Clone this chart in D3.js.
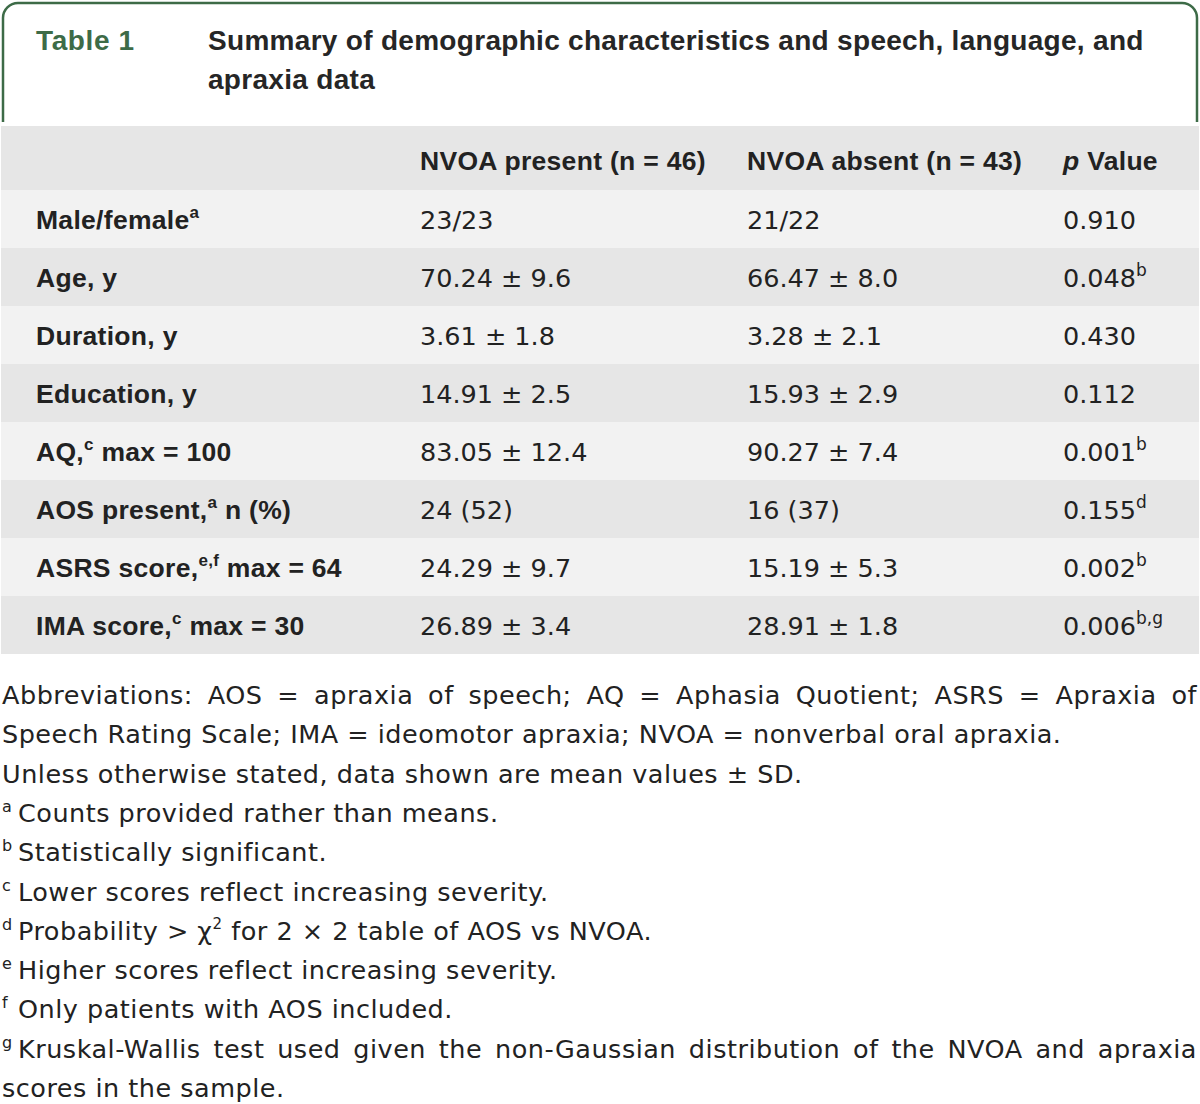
<!DOCTYPE html>
<html lang="en">
<head>
<meta charset="UTF-8">
<title>Table 1</title>
<script src="https://d3js.org/d3.v7.min.js"></script>
<style>
  body { margin: 0; background: #fff; }
  text { font-family: "DejaVu Sans", sans-serif; fill: #222; }
  text.b { font-family: "Liberation Sans", Arial, sans-serif; font-weight: bold; letter-spacing: 0.3px; }
  text.note { letter-spacing: 0.5px; }
</style>
</head>
<body>
<div id="tbl"></div>
<script>
// data
const tableNo = "Table 1";
const titleLines = ["Summary of demographic characteristics and speech, language, and",
                    "apraxia data"];
const colHeads = ["", "NVOA present (n = 46)", "NVOA absent (n = 43)", "p Value"];
// [text, superscript, text after]
const rowLabels = [
  ["Male/female", "a", ""],
  ["Age, y", "", ""],
  ["Duration, y", "", ""],
  ["Education, y", "", ""],
  ["AQ,", "c", " max = 100"],
  ["AOS present,", "a", " n (%)"],
  ["ASRS score,", "e,f", " max = 64"],
  ["IMA score,", "c", " max = 30"]
];
const presentVals = ["23/23", "70.24 ± 9.6", "3.61 ± 1.8", "14.91 ± 2.5", "83.05 ± 12.4", "24 (52)", "24.29 ± 9.7", "26.89 ± 3.4"];
const absentVals = ["21/22", "66.47 ± 8.0", "3.28 ± 2.1", "15.93 ± 2.9", "90.27 ± 7.4", "16 (37)", "15.19 ± 5.3", "28.91 ± 1.8"];
const pVals = ["0.910", "0.048", "0.430", "0.112", "0.001", "0.155", "0.002", "0.006"];
const pSups = ["", "b", "", "", "b", "d", "b", "b,g"];
// footnote lines: [superscript, text, justify]
const notes = [
  ["", "Abbreviations: AOS = apraxia of speech; AQ = Aphasia Quotient; ASRS = Apraxia of", true],
  ["", "Speech Rating Scale; IMA = ideomotor apraxia; NVOA = nonverbal oral apraxia.", false],
  ["", "Unless otherwise stated, data shown are mean values ± SD.", false],
  ["a", "Counts provided rather than means.", false],
  ["b", "Statistically significant.", false],
  ["c", "Lower scores reflect increasing severity.", false],
  ["d", "Probability > χ{2} for 2 × 2 table of AOS vs NVOA.", false],
  ["e", "Higher scores reflect increasing severity.", false],
  ["f", "Only patients with AOS included.", false],
  ["g", "Kruskal-Wallis test used given the non-Gaussian distribution of the NVOA and apraxia", true],
  ["", "scores in the sample.", false]
];

const W = 1200, H = 1104;
const green = "#3d6b47";

const svg = d3.select("#tbl").append("svg")
    .attr("width", W).attr("height", H);

// header box with rounded top corners
const r = 15;
svg.append("path")
    .attr("d", `M3,122 V${3 + r} A${r},${r} 0 0 1 ${3 + r},3 H${1197 - r} A${r},${r} 0 0 1 1197,${3 + r} V122`)
    .attr("fill", "none")
    .attr("stroke", green)
    .attr("stroke-width", 2.5);

svg.append("text")
    .attr("class", "b")
    .attr("x", 36).attr("y", 50)
    .attr("font-size", 28)
    .style("letter-spacing", "0.6px")
    .style("fill", green)
    .text(tableNo);

svg.selectAll(".title")
    .data(titleLines)
    .join("text")
    .attr("class", "title b")
    .attr("x", 208)
    .attr("y", (d, i) => 50 + i * 39)
    .attr("font-size", 28)
    .style("fill", "#262626")
    .text(d => d);

// table
const y = d3.scaleBand()
    .domain(d3.range(rowLabels.length))
    .range([190, 654]);
const x = d3.scaleOrdinal()
    .domain([0, 1, 2, 3])
    .range([36, 420, 747, 1063]);

svg.append("rect")
    .attr("x", 1).attr("y", 126)
    .attr("width", 1198).attr("height", 64)
    .attr("fill", "#e6e6e6");

svg.selectAll(".band")
    .data(rowLabels)
    .join("rect")
    .attr("class", "band")
    .attr("x", 1).attr("y", (d, i) => y(i))
    .attr("width", 1198).attr("height", y.bandwidth())
    .attr("fill", (d, i) => i % 2 === 0 ? "#f2f2f2" : "#e6e6e6");

// column heads
const head = svg.selectAll(".head")
    .data(colHeads)
    .join("text")
    .attr("class", "head b")
    .attr("x", (d, i) => x(i))
    .attr("y", 170)
    .attr("font-size", 26.5);
head.each(function(d, i) {
    const t = d3.select(this);
    if (i === 3) {
        t.append("tspan").attr("font-style", "italic").text("p");
        t.append("tspan").text(" Value");
    } else {
        t.text(d);
    }
});

const base = i => y(i) + y.bandwidth() / 2 + 10;

// row labels
svg.selectAll(".lab")
    .data(rowLabels)
    .join("text")
    .attr("class", "lab b")
    .attr("x", x(0))
    .attr("y", (d, i) => base(i))
    .attr("font-size", 26.5)
    .each(function(d) {
        const t = d3.select(this);
        t.append("tspan").text(d[0]);
        if (d[1]) t.append("tspan").attr("font-size", 17).attr("dy", -11).text(d[1]);
        if (d[2]) t.append("tspan").attr("dy", d[1] ? 11 : 0).text(d[2]);
    });

svg.selectAll(".pres")
    .data(presentVals)
    .join("text")
    .attr("class", "pres")
    .attr("x", x(1))
    .attr("y", (d, i) => base(i))
    .attr("font-size", 25.5)
    .text(d => d);

svg.selectAll(".abs")
    .data(absentVals)
    .join("text")
    .attr("class", "abs")
    .attr("x", x(2))
    .attr("y", (d, i) => base(i))
    .attr("font-size", 25.5)
    .text(d => d);

svg.selectAll(".pv")
    .data(pVals)
    .join("text")
    .attr("class", "pv")
    .attr("x", x(3))
    .attr("y", (d, i) => base(i))
    .attr("font-size", 25.5)
    .each(function(d, i) {
        const t = d3.select(this);
        t.append("tspan").text(d);
        if (pSups[i]) t.append("tspan").attr("font-size", 17).attr("dy", -11).text(pSups[i]);
    });

// footnotes
const noteY = d3.scaleLinear().domain([0, 1]).range([704, 743.3]);
const fs = 25.5;

// fills a text element, handling "{2}" as superscript
function fillText(sel, str) {
    const parts = str.split(/\{(\d)\}/);
    parts.forEach((p, k) => {
        if (k % 2 === 1) {
            sel.append("tspan").attr("font-size", 15).attr("dy", -11).text(p);
        } else if (p) {
            sel.append("tspan").attr("dy", k > 0 ? 11 : 0).text(p);
        }
    });
}

notes.forEach((n, i) => {
    const yy = noteY(i);
    let x0 = 2;
    if (n[0]) {
        svg.append("text").attr("x", x0).attr("y", yy - 10)
            .attr("font-size", 16).text(n[0]);
        x0 = 18;
    }
    if (!n[2]) {
        const t = svg.append("text").attr("class", "note")
            .attr("x", x0).attr("y", yy).attr("font-size", fs);
        fillText(t, n[1]);
    } else {
        // justified line: spread words to reach right edge
        const words = n[1].split(" ");
        const g = svg.append("g");
        const nodes = words.map(w => g.append("text").attr("class", "note")
            .attr("y", yy).attr("font-size", fs).text(w));
        const widths = nodes.map(s => s.node().getComputedTextLength());
        const total = d3.sum(widths);
        const gap = Math.max(4, (1197 - x0 - total) / (words.length - 1));
        let cx = x0;
        nodes.forEach((s, k) => {
            s.attr("x", cx);
            cx += widths[k] + gap;
        });
    }
});
</script>
</body>
</html>
